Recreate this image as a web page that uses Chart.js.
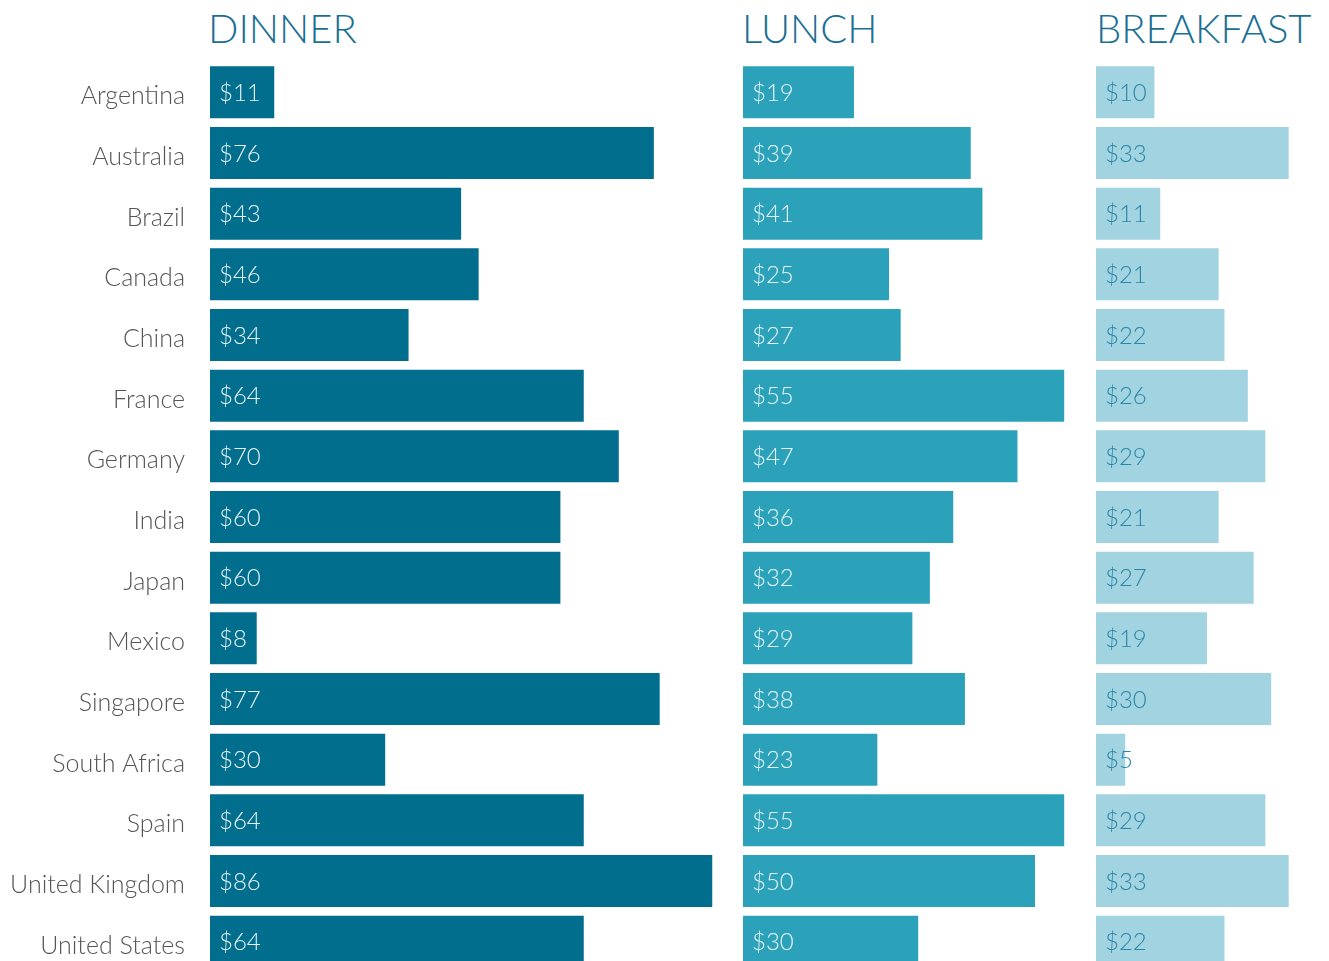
<!DOCTYPE html>
<html>
<head>
<meta charset="utf-8">
<script src="https://cdn.jsdelivr.net/npm/chart.js@4/dist/chart.umd.min.js"></script>
<style>
  html, body { margin: 0; padding: 0; background: #fff; overflow: hidden; width: 1329px; height: 961px; }
  .titulo { position: absolute; top: 4px; font-family: Lato, "Open Sans", sans-serif; font-weight: 300;
            font-size: 40px; color: #1a6f96; white-space: nowrap; }
  canvas { position: absolute; top: 62px; }
</style>
</head>
<body>
<div class="titulo" style="left:208px">DINNER</div>
<div class="titulo" style="left:742px">LUNCH</div>
<div class="titulo" style="left:1096px">BREAKFAST</div>
<canvas id="dinnerChart" width="743" height="910" style="left:0px"></canvas>
<canvas id="lunchChart" width="353" height="910" style="left:743px"></canvas>
<canvas id="breakfastChart" width="233" height="910" style="left:1096px"></canvas>
<script>
// ========== DATOS ==========
const paises = ['Argentina', 'Australia', 'Brazil', 'Canada', 'China', 'France', 'Germany', 'India',
                'Japan', 'Mexico', 'Singapore', 'South Africa', 'Spain', 'United Kingdom', 'United States'];
const cena = [11, 76, 43, 46, 34, 64, 70, 60, 60, 8, 77, 30, 64, 86, 64];
const almuerzo = [19, 39, 41, 25, 27, 55, 47, 36, 32, 29, 38, 23, 55, 50, 30];
const desayuno = [10, 33, 11, 21, 22, 26, 29, 21, 27, 19, 30, 5, 29, 33, 22];

const PX_POR_DOLAR = 5.84;
const FUENTE = 'Lato, "Open Sans", sans-serif';

// Plugin para escribir el valor dentro de cada barra (y los países a la izquierda)
const etiquetasValor = {
    id: 'etiquetasValor',
    afterDatasetsDraw(chart, args, opts) {
        const ctx = chart.ctx;
        const meta = chart.getDatasetMeta(0);
        ctx.save();
        ctx.textBaseline = 'middle';
        meta.data.forEach((bar, i) => {
            const valor = chart.data.datasets[0].data[i];
            ctx.font = '300 24px ' + FUENTE;
            ctx.fillStyle = opts.color;
            ctx.textAlign = 'left';
            ctx.fillText('$' + valor, bar.base + 9, bar.y + 1);
            if (opts.paises) {
                ctx.font = '300 25px ' + FUENTE;
                ctx.fillStyle = '#555555';
                ctx.textAlign = 'right';
                ctx.fillText(chart.data.labels[i], bar.base - 25, bar.y + 4);
            }
        });
        ctx.restore();
    }
};

function crearGrafico(id, datos, color, colorTexto, izquierda, anchoPlot, conPaises) {
    const ctx = document.getElementById(id).getContext('2d');
    return new Chart(ctx, {
        type: 'bar',
        data: {
            labels: paises,
            datasets: [{
                data: datos,
                backgroundColor: color,
                categoryPercentage: 1,
                barPercentage: 0.857
            }]
        },
        plugins: [etiquetasValor],
        options: {
            indexAxis: 'y',
            responsive: false,
            animation: false,
            layout: { padding: { left: izquierda, right: 0, top: 0, bottom: 0 } },
            plugins: {
                legend: { display: false },
                tooltip: { enabled: false },
                etiquetasValor: { color: colorTexto, paises: conPaises }
            },
            scales: {
                x: { display: false, min: 0, max: anchoPlot / PX_POR_DOLAR },
                y: { display: false }
            }
        }
    });
}

crearGrafico('dinnerChart', cena, '#006e8c', '#e6f3f7', 210, 743 - 210, true);
crearGrafico('lunchChart', almuerzo, '#2ca2ba', '#e6f5f8', 0, 353, false);
crearGrafico('breakfastChart', desayuno, '#a2d3e0', '#2a86a8', 0, 233, false);
</script>
</body>
</html>
